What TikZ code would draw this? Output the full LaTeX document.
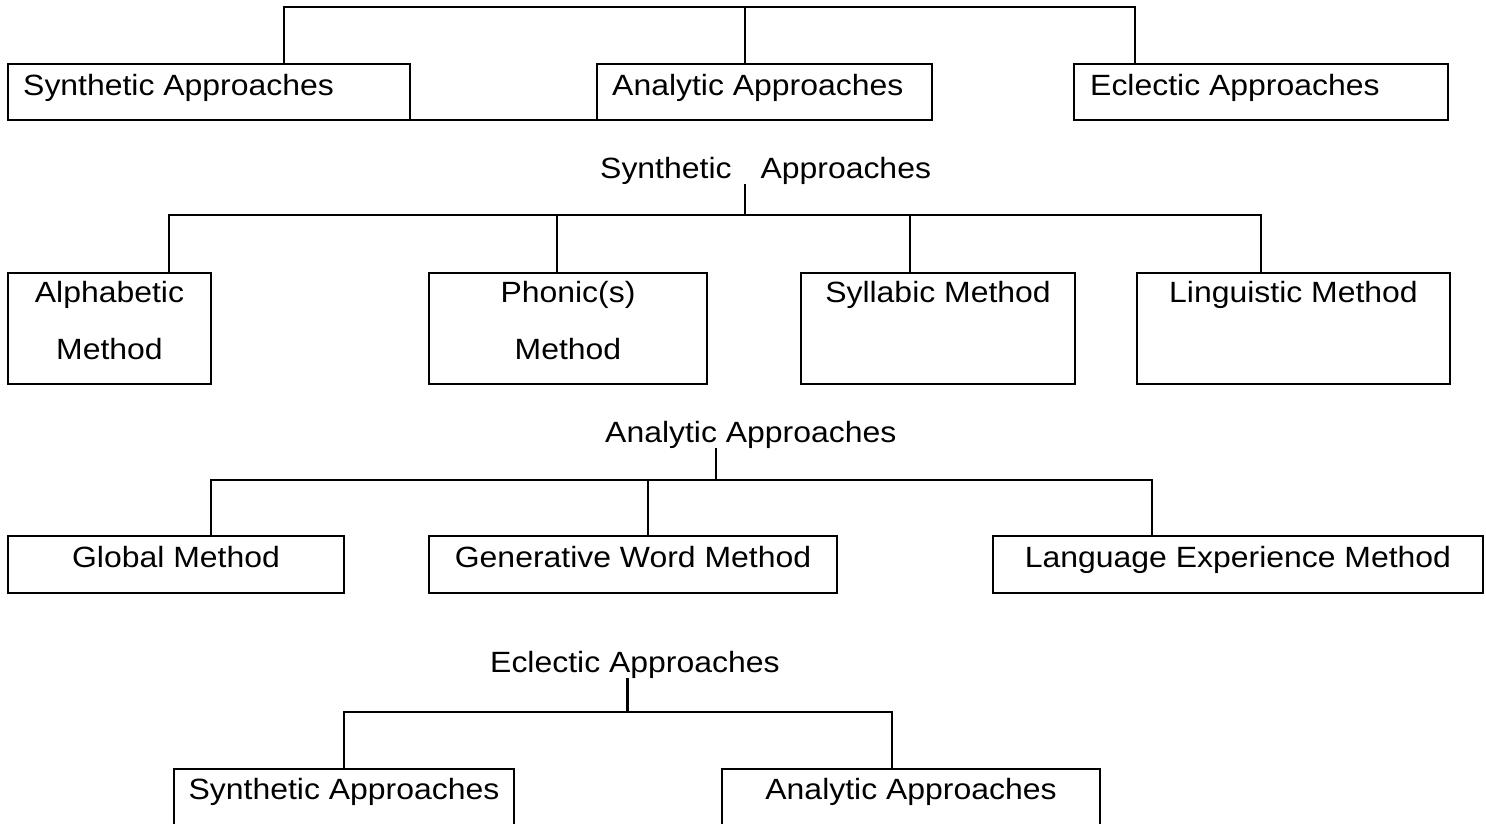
\documentclass[tikz,border=0pt]{standalone}
\usepackage{fontspec}
\setmainfont{Liberation Sans}[FakeStretch=1.09]
\begin{document}
\begin{tikzpicture}[x=1pt,y=-1pt,
  txt/.style={inner sep=0pt, font=\fontsize{29.3}{35}\selectfont},
  box/.style={draw, line width=2.2pt, inner sep=0pt, outer sep=0pt, anchor=north west},
  conn/.style={line width=2.2pt, line join=miter}]
\fill[white] (0,0) rectangle (1486,823);
\useasboundingbox (0,0) rectangle (1486,823);
\clip (0,0) rectangle (1486,823);

% ---------- Row 1 ----------
\node[box, minimum width=402pt, minimum height=56pt] (b1) at (8,64) {};
\node[box, minimum width=335pt, minimum height=56pt] (b2) at (597,64) {};
\node[box, minimum width=374pt, minimum height=56pt] (b3) at (1074,64) {};
\node[txt, anchor=base west] (t1) at (23,95) {Synthetic Approaches};
\node[txt, anchor=base west] (t2) at (612,95) {Analytic Approaches};
\node[txt, anchor=base west] (t3) at (1090,95) {Eclectic Approaches};
\coordinate (r1L) at (284,7);
\coordinate (r1M) at (745,7);
\coordinate (r1R) at (1135,7);
\draw[conn] (r1L |- b1.north) -- (r1L) -- (r1R) -- (r1R |- b3.north);
\draw[conn] (r1M) -- (r1M |- b2.north);
\draw[conn] (b1.south east) -- (b2.south west);

% ---------- Row 2 ----------
\node[txt, anchor=base west] (l2) at (600,178) {Synthetic\hspace{29pt}Approaches};
\node[box, minimum width=203pt, minimum height=111pt] (b4) at (8,273) {};
\node[box, minimum width=278pt, minimum height=111pt] (b5) at (429,273) {};
\node[box, minimum width=274pt, minimum height=111pt] (b6) at (801,273) {};
\node[box, minimum width=313pt, minimum height=111pt] (b7) at (1137,273) {};
\node[txt, anchor=base] (t4a) at (109.5,302) {Alphabetic};
\node[txt, anchor=base] (t4b) at (109.5,359) {Method};
\node[txt, anchor=base] (t5a) at (568,302) {Phonic(s)};
\node[txt, anchor=base] (t5b) at (568,359) {Method};
\node[txt, anchor=base] (t6) at (938,302) {Syllabic Method};
\node[txt, anchor=base] (t7) at (1293.5,302) {Linguistic Method};
\coordinate (r2M) at (745,215);
\coordinate (r2a) at (169,215);
\coordinate (r2b) at (557,215);
\coordinate (r2c) at (910,215);
\coordinate (r2d) at (1261,215);
\draw[conn] (r2M |- l2.south) -- (r2M);
\draw[conn] (r2a |- b4.north) -- (r2a) -- (r2d) -- (r2d |- b7.north);
\draw[conn] (r2b) -- (r2b |- b5.north);
\draw[conn] (r2c) -- (r2c |- b6.north);

% ---------- Row 3 ----------
\node[txt, anchor=base west] (l3) at (605,442) {Analytic Approaches};
\node[box, minimum width=336pt, minimum height=57pt] (b8) at (8,536) {};
\node[box, minimum width=408pt, minimum height=57pt] (b9) at (429,536) {};
\node[box, minimum width=490pt, minimum height=57pt] (b10) at (993,536) {};
\node[txt, anchor=base] (t8) at (176,567) {Global Method};
\node[txt, anchor=base] (t9) at (633,567) {Generative Word Method};
\node[txt, anchor=base] (t10) at (1238,567) {Language Experience Method};
\coordinate (r3M) at (716,480);
\coordinate (r3a) at (211,480);
\coordinate (r3b) at (648,480);
\coordinate (r3c) at (1152,480);
\draw[conn] (r3M |- l3.south) -- (r3M);
\draw[conn] (r3a |- b8.north) -- (r3a) -- (r3c) -- (r3c |- b10.north);
\draw[conn] (r3b) -- (r3b |- b9.north);

% ---------- Row 4 ----------
\node[txt, anchor=base west] (l4) at (490,672) {Eclectic Approaches};
\node[box, minimum width=340pt, minimum height=80pt] (b11) at (174,769) {};
\node[box, minimum width=378pt, minimum height=80pt] (b12) at (722,769) {};
\node[txt, anchor=base] (t11) at (344,799) {Synthetic Approaches};
\node[txt, anchor=base] (t12) at (911,799) {Analytic Approaches};
\coordinate (r4M) at (627.5,712);
\coordinate (r4a) at (344,712);
\coordinate (r4b) at (892,712);
\draw[conn] (r4M |- l4.south) -- (r4M);
\draw[conn] (r4a |- b11.north) -- (r4a) -- (r4b) -- (r4b |- b12.north);
\end{tikzpicture}
\end{document}
